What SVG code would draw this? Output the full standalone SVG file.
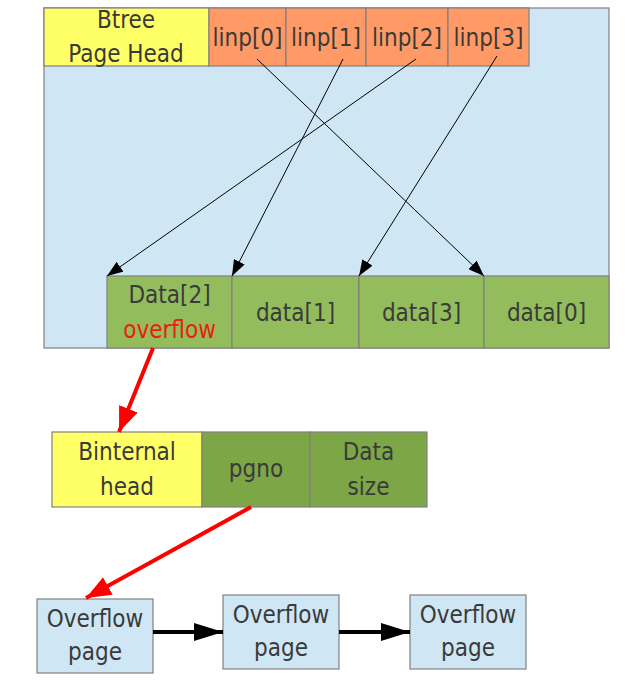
<svg xmlns="http://www.w3.org/2000/svg" width="636" height="680" viewBox="0 0 636 680">
<style>
.box{stroke:#808080;stroke-width:1.2}
.blue{fill:#CFE6F4}
.yellow{fill:#FFFF66}
.orange{fill:#FF9A66}
.green{fill:#93BD5C}
.dgreen{fill:#7DA647}
text{font-family:"DejaVu Sans Condensed","DejaVu Sans","Liberation Sans",sans-serif;font-stretch:condensed;font-size:24px;fill:#3A3A3A;text-anchor:middle}
.red{fill:#E8200C}
.thin{stroke:#000;stroke-width:1;fill:none}
.redline{stroke:#FF0000;stroke-width:4;fill:none}
.thick{stroke:#000;stroke-width:4;fill:none}
</style>
<defs>
<marker id="ah" markerUnits="userSpaceOnUse" markerWidth="17" markerHeight="12" refX="16" refY="6" orient="auto"><path d="M0,0 L16,6 L0,12 Z" fill="#000"/></marker>
<marker id="ahr" markerUnits="userSpaceOnUse" markerWidth="26" markerHeight="20" refX="25" refY="10" orient="auto"><path d="M0,0 L25,10 L0,20 Z" fill="#FF0000"/></marker>
<marker id="ahb" markerUnits="userSpaceOnUse" markerWidth="30" markerHeight="20" refX="29" refY="10" orient="auto"><path d="M0,1 L29,10 L0,19 Z" fill="#000"/></marker>
</defs>
<g id="page">
<rect class="box blue" x="44" y="8" width="565" height="340"/>
</g>
<g id="btree-head">
<rect class="box yellow" x="44" y="8" width="165" height="58"/>
<text x="126" y="28">Btree</text>
<text x="126" y="62">Page Head</text>
</g>
<g id="linp0"><rect class="box orange" x="209" y="8" width="77" height="58"/><text x="247.5" y="46">linp[0]</text></g>
<g id="linp1"><rect class="box orange" x="286" y="8" width="80" height="58"/><text x="326" y="46">linp[1]</text></g>
<g id="linp2"><rect class="box orange" x="366" y="8" width="82" height="58"/><text x="407" y="46">linp[2]</text></g>
<g id="linp3"><rect class="box orange" x="448" y="8" width="81" height="58"/><text x="488.5" y="46">linp[3]</text></g>
<g id="data2"><rect class="box green" x="107" y="276" width="125" height="72"/><text x="169.5" y="303">Data[2]</text><text class="red" x="169.5" y="338">overflow</text></g>
<g id="data1"><rect class="box green" x="232" y="276" width="127" height="72"/><text x="295.5" y="321">data[1]</text></g>
<g id="data3"><rect class="box green" x="359" y="276" width="125" height="72"/><text x="421.5" y="321">data[3]</text></g>
<g id="data0"><rect class="box green" x="484" y="276" width="125" height="72"/><text x="546.5" y="321">data[0]</text></g>
<g id="binternal-head"><rect class="box yellow" x="52" y="432" width="150" height="75"/><text x="127" y="460">Binternal</text><text x="127" y="495">head</text></g>
<g id="pgno"><rect class="box dgreen" x="202" y="432" width="108" height="75"/><text x="256" y="477">pgno</text></g>
<g id="datasize"><rect class="box dgreen" x="310" y="432" width="117" height="75"/><text x="368.5" y="460">Data</text><text x="368.5" y="495">size</text></g>
<g id="overflow1"><rect class="box blue" x="37" y="599" width="116" height="74"/><text x="95" y="627">Overflow</text><text x="95" y="660">page</text></g>
<g id="overflow2"><rect class="box blue" x="223" y="595" width="116" height="74"/><text x="281" y="623">Overflow</text><text x="281" y="656">page</text></g>
<g id="overflow3"><rect class="box blue" x="410" y="595" width="116" height="74"/><text x="468" y="623">Overflow</text><text x="468" y="656">page</text></g>
<g id="connectors">
<line class="thin" x1="257" y1="59" x2="484" y2="276" marker-end="url(#ah)"/>
<line class="thin" x1="343" y1="59" x2="232" y2="276" marker-end="url(#ah)"/>
<line class="thin" x1="416" y1="59" x2="107" y2="276" marker-end="url(#ah)"/>
<line class="thin" x1="497" y1="56" x2="359" y2="276" marker-end="url(#ah)"/>
<line class="redline" x1="153" y1="348" x2="119" y2="432" marker-end="url(#ahr)"/>
<line class="redline" x1="251" y1="507" x2="86" y2="598" marker-end="url(#ahr)"/>
<line class="thick" x1="153" y1="632" x2="223" y2="632" marker-end="url(#ahb)"/>
<line class="thick" x1="339" y1="632" x2="410" y2="632" marker-end="url(#ahb)"/>
</g>
</svg>
